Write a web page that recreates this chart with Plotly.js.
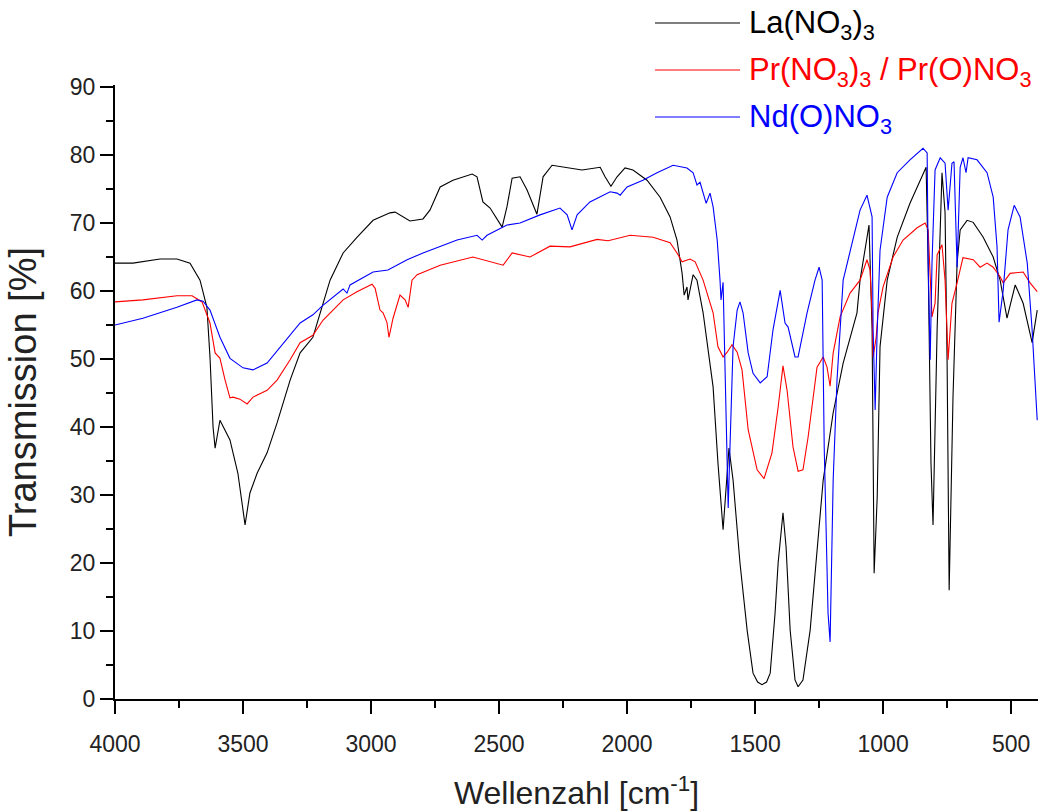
<!DOCTYPE html>
<html>
<head>
<meta charset="utf-8">
<script src="https://cdn.plot.ly/plotly-3.0.1.min.js"></script>
<style>html,body{margin:0;padding:0;background:#fff;}#chart{width:1051px;height:811px;}</style>
</head>
<body>
<div id="chart"></div>
<script>
// Series names
const seriesNames = ['La(NO<sub>3</sub>)<sub>3</sub>', 'Pr(NO<sub>3</sub>)<sub>3</sub> / Pr(O)NO<sub>3</sub>', 'Nd(O)NO<sub>3</sub>'];
const seriesColors = ['#000000', '#ff0000', '#0000ff'];

// La(NO3)3 — wavenumber [cm-1] and transmission [%]
const laWn = [4000,3930,3824,3758,3707,3668,3641,3629,3617,3609,
  3590,3551,3520,3500,3492,3473,3445,3406,3367,3316,
  3277,3227,3199,3160,3109,3055,2992,2926,2906,2848,
  2797,2770,2730,2680,2605,2586,2563,2535,2488,2469,
  2449,2418,2391,2352,2328,2293,2176,2105,2086,2063,
  2039,2008,1977,1922,1871,1832,1805,1785,1777,1766,
  1762,1742,1727,1703,1664,1645,1625,1609,1602,1586,
  1559,1531,1508,1490,1473,1455,1441,1422,1410,1391,
  1379,1363,1344,1332,1313,1285,1258,1234,1195,1156,
  1102,1090,1055,1043,1035,1023,1012,984,945,895,
  832,824,813,805,789,770,758,750,742,727,
  711,699,672,648,609,570,543,516,484,453,
  418,398];
const laT = [64.1,64.1,64.7,64.7,64.1,61.6,57.6,50.3,40.0,36.9,
  41.0,38.1,33.2,28.2,25.6,30.3,33.2,36.2,40.6,46.9,
  50.9,53.2,56.8,61.6,65.6,67.9,70.4,71.5,71.6,70.3,
  70.6,71.9,75.3,76.3,77.2,76.8,73.1,72.2,69.4,72.4,
  76.6,76.8,74.9,71.3,76.8,78.5,77.8,78.2,76.8,75.4,
  76.8,78.1,77.8,76.3,73.8,70.9,67.5,62.6,59.4,60.6,
  58.7,62.4,61.6,56.8,45.9,34.7,24.9,34.1,36.9,32.2,
  20.0,10.1,3.8,2.5,2.1,2.5,3.8,12.6,20.0,27.4,
  22.4,10.1,2.8,1.8,2.8,10.1,22.4,32.2,42.1,49.4,
  56.8,61.6,69.7,54.3,18.5,29.7,51.8,61.6,67.9,72.9,
  78.2,64.1,34.7,25.6,54.3,77.4,71.5,49.4,16.0,44.4,
  64.1,69.0,70.4,70.1,67.9,65.0,61.6,56.0,60.9,58.2,
  52.4,57.2];

// Pr(NO3)3 / Pr(O)NO3
const prWn = [4000,3891,3758,3699,3660,3629,3609,3590,3570,3551,
  3539,3512,3484,3461,3406,3367,3316,3277,3227,3188,
  3109,3055,2996,2984,2965,2953,2938,2930,2914,2887,
  2867,2855,2840,2820,2730,2602,2484,2449,2379,2301,
  2223,2117,2074,1988,1898,1832,1805,1785,1754,1734,
  1703,1664,1645,1625,1609,1590,1570,1551,1527,1492,
  1465,1434,1410,1391,1375,1352,1332,1313,1293,1258,
  1234,1219,1207,1195,1168,1129,1090,1063,1051,1043,
  1039,1027,1020,1000,961,922,867,836,824,816,
  809,797,789,770,758,746,731,711,688,648,
  621,594,570,543,531,504,453,426,398];
const prT = [58.4,58.7,59.3,59.3,58.4,55.3,50.9,50.1,46.9,44.3,
  44.4,44.1,43.4,44.4,45.4,46.9,49.9,52.4,53.5,55.7,
  58.7,59.9,61.0,60.4,57.2,56.8,55.4,53.2,56.0,59.4,
  58.7,57.6,61.6,62.4,63.8,65.0,63.8,65.6,65.0,66.6,
  66.5,67.6,67.4,68.2,67.9,67.1,65.6,64.3,64.7,64.3,
  61.6,56.8,51.8,50.3,51.0,52.1,51.0,48.4,39.6,33.7,
  32.4,36.2,42.9,49.0,45.4,37.1,33.5,33.7,38.5,48.8,
  50.3,48.8,46.0,50.9,56.2,59.7,61.6,64.6,63.1,56.8,
  50.3,53.2,56.8,60.6,65.0,67.5,69.3,70.0,69.0,61.6,
  56.2,58.2,65.3,66.8,61.6,49.9,58.2,61.2,64.9,64.6,
  63.5,64.1,63.5,62.1,61.2,62.6,62.8,61.2,59.9];

// Nd(O)NO3
const ndWn = [4000,3891,3758,3680,3656,3629,3590,3551,3500,3461,
  3406,3355,3277,3227,3188,3109,3094,3082,2992,2934,
  2859,2797,2730,2664,2586,2566,2547,2469,2418,2340,
  2262,2234,2215,2195,2145,2066,2039,2027,2000,1938,
  1883,1820,1766,1742,1727,1715,1691,1676,1664,1648,
  1637,1633,1625,1617,1609,1605,1598,1586,1570,1559,
  1547,1527,1508,1480,1453,1430,1402,1383,1371,1344,
  1332,1297,1266,1250,1238,1230,1215,1207,1195,1180,
  1156,1090,1063,1043,1039,1031,1023,1012,984,945,
  895,844,828,824,816,809,797,777,758,746,
  731,723,711,699,688,676,668,633,594,570,
  555,547,531,512,488,465,437,418,398];
const ndT = [55.0,56.0,57.6,58.7,58.5,57.2,53.2,50.1,48.7,48.4,
  49.4,51.8,55.3,56.5,57.9,60.3,59.7,60.9,62.8,63.1,
  64.6,65.6,66.5,67.5,68.2,67.5,68.2,69.7,70.0,71.2,
  72.2,71.2,69.0,71.2,73.1,74.6,74.4,74.1,75.3,76.3,
  77.4,78.5,78.1,77.4,75.6,76.0,72.9,74.4,72.4,67.5,
  61.6,58.7,61.3,46.9,32.2,28.1,37.1,51.8,57.2,58.4,
  56.8,50.9,47.9,46.5,47.4,54.3,60.1,55.3,54.7,50.3,
  50.3,56.8,61.6,63.5,61.6,37.1,12.6,8.4,32.2,46.9,
  61.6,71.9,74.1,70.9,54.3,42.5,54.3,66.0,73.8,77.4,
  79.3,81.0,80.3,64.1,49.9,64.1,77.8,79.6,78.8,71.9,
  78.8,79.0,63.5,78.2,79.6,77.4,79.6,79.3,77.4,73.8,
  66.5,55.4,60.1,69.0,72.6,70.9,64.1,54.3,41.0];

// Axis tick values
const xTickVals = [4000,3500,3000,2500,2000,1500,1000,500];
const yTickVals = [0,10,20,30,40,50,60,70,80,90];

const FONT = 'Liberation Sans, Arial, Helvetica, sans-serif';
const allX = [laWn, prWn, ndWn];
const allY = [laT, prT, ndT];

const traces = allX.map((xs, i) => ({
  type: 'scatter', mode: 'lines', x: xs, y: allY[i], name: seriesNames[i],
  line: {color: seriesColors[i], width: 1.1}, showlegend: false, hoverinfo: 'x+y'
}));

// Custom legend (long sample lines, coloured labels)
const legendRowsPx = [23, 70, 117];
const L = 115, R = 13, T = 85, B = 112, W = 1051, H = 811;
const pw = W - L - R, ph = H - T - B;
const toPX = px => (px - L) / pw;
const toPY = py => (H - B - py) / ph;
const shapes = [], annotations = [];
legendRowsPx.forEach((py, i) => {
  shapes.push({type: 'line', xref: 'paper', yref: 'paper', x0: toPX(655), x1: toPX(740), y0: toPY(py), y1: toPY(py),
    line: {color: seriesColors[i], width: 1.2}});
  annotations.push({xref: 'paper', yref: 'paper', x: toPX(747), y: toPY(py + 2), xanchor: 'left', yanchor: 'middle',
    text: seriesNames[i], showarrow: false, font: {family: FONT, size: 31, color: seriesColors[i]}});
});

const layout = {
  width: W, height: H,
  margin: {l: L, r: R, t: T, b: B},
  paper_bgcolor: '#ffffff', plot_bgcolor: '#ffffff',
  font: {family: FONT, color: '#000'},
  showlegend: false,
  xaxis: {
    range: [4000, 395], showgrid: false, zeroline: false,
    showline: true, linecolor: '#000', linewidth: 2,
    ticks: 'outside', ticklen: 13, tickwidth: 2, tickcolor: '#000',
    tickvals: xTickVals, ticktext: xTickVals.map(String),
    tickfont: {family: FONT, size: 23, color: '#222'}, ticklabelstandoff: 10,
    minor: {dtick: 250, ticks: 'outside', ticklen: 7, tickwidth: 2, tickcolor: '#000', showgrid: false},
    title: {text: 'Wellenzahl [cm<sup>-1</sup>]', font: {family: FONT, size: 32, color: '#222'}, standoff: 27},
    automargin: false
  },
  yaxis: {
    range: [0, 90.3], showgrid: false, zeroline: false,
    showline: true, linecolor: '#000', linewidth: 2,
    ticks: 'outside', ticklen: 13, tickwidth: 2, tickcolor: '#000',
    tickvals: yTickVals, ticktext: yTickVals.map(String),
    tickfont: {family: FONT, size: 23, color: '#222'},
    minor: {dtick: 5, ticks: 'outside', ticklen: 7, tickwidth: 2, tickcolor: '#000', showgrid: false},
    title: {text: 'Transmission [%]', font: {family: FONT, size: 38, color: '#222'}, standoff: 22},
    automargin: false
  },
  shapes: shapes,
  annotations: annotations
};

Plotly.newPlot('chart', traces, layout, {displayModeBar: false, staticPlot: true});
</script>
</body>
</html>
